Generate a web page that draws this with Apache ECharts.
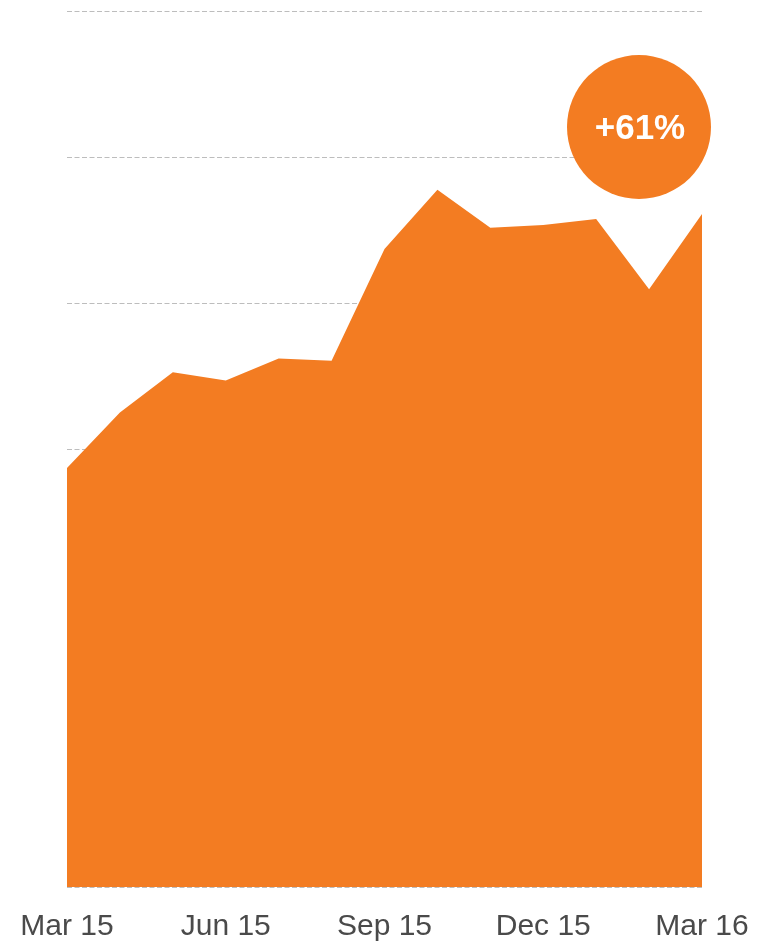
<!DOCTYPE html>
<html>
<head>
<meta charset="utf-8">
<style>
  html, body { margin: 0; padding: 0; background: #ffffff; }
  #chart { width: 759px; height: 942px; }
</style>
<script src="https://cdn.jsdelivr.net/npm/echarts@6/dist/echarts.min.js"></script>
</head>
<body>
<div id="chart"></div>
<script>
// Monthly index, March 2015 to March 2016
const months = ['Mar 15', 'Apr 15', 'May 15', 'Jun 15', 'Jul 15', 'Aug 15', 'Sep 15',
                'Oct 15', 'Nov 15', 'Dec 15', 'Jan 16', 'Feb 16', 'Mar 16'];
const values = [287, 325, 352.5, 347, 362, 360.5, 437, 477.5, 451.5, 453.5, 457.5, 409.5, 461];
// Only every third month gets a tick label
const shownLabels = ['Mar 15', 'Jun 15', 'Sep 15', 'Dec 15', 'Mar 16'];

const ORANGE = '#F37C22';
const growth = Math.round((values[values.length - 1] / values[0] - 1) * 100);
const badgeText = (growth >= 0 ? '+' : '') + growth + '%';

const chart = echarts.init(document.getElementById('chart'), null, { renderer: 'canvas' });

chart.setOption({
  animation: false,
  backgroundColor: '#ffffff',
  grid: { left: 67, right: 57, top: 11, bottom: 55, containLabel: false },
  xAxis: {
    type: 'category',
    data: months,
    boundaryGap: false,
    axisLine: { show: false },
    axisTick: { show: false },
    splitLine: { show: false },
    axisLabel: {
      interval: 0,
      margin: 25,
      fontFamily: '"Liberation Sans", Arial, sans-serif',
      fontSize: 30,
      color: '#4a4a4a',
      formatter: v => shownLabels.includes(v) ? v : ''
    }
  },
  yAxis: {
    type: 'value',
    min: 0,
    max: 600,
    interval: 100,
    axisLine: { show: false },
    axisTick: { show: false },
    axisLabel: { show: false },
    splitLine: {
      show: true,
      lineStyle: { color: '#bdbdbd', width: 1, type: [5, 2.5] }
    }
  },
  series: [{
    type: 'line',
    data: values,
    symbol: 'none',
    lineStyle: { width: 0 },
    areaStyle: { color: ORANGE, opacity: 1 },
    z: 2
  }],
  graphic: [{
    type: 'circle',
    zlevel: 1,
    z: 100,
    shape: { cx: 639, cy: 127, r: 72 },
    style: { fill: ORANGE }
  }, {
    type: 'text',
    zlevel: 1,
    z: 101,
    x: 640,
    y: 129,
    style: {
      text: badgeText,
      fill: '#ffffff',
      fontFamily: '"Liberation Sans", Arial, sans-serif',
      fontWeight: 'bold',
      fontSize: 35,
      align: 'center',
      verticalAlign: 'middle'
    }
  }]
});
</script>
</body>
</html>
